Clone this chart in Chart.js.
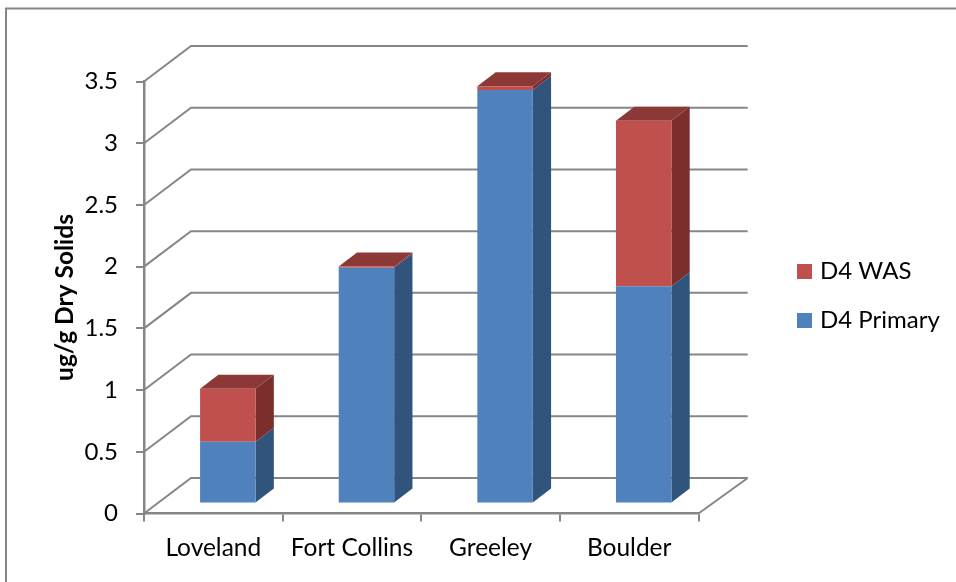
<!DOCTYPE html>
<html>
<head>
<meta charset="utf-8">
<style>
  html, body { margin: 0; padding: 0; background: #fff; }
  #wrap { width: 956px; height: 582px; }
</style>
<script src="https://cdn.jsdelivr.net/npm/chart.js@4"></script>
</head>
<body>
<div id="wrap"><canvas id="chart" width="956" height="582"></canvas></div>
<script>
const categories = ["Loveland", "Fort Collins", "Greeley", "Boulder"];
const primaryValues = [0.5, 1.91, 3.35, 1.76];
const wasValues = [0.43, 0.01, 0.03, 1.34];
const yTicks = [0, 0.5, 1, 1.5, 2, 2.5, 3, 3.5];

const FONT = "Lato";
const AXIS_GREY = "#868686";

// faces of each series: front, side, top
const blueFaces = { front: "#4F81BD", side: "#31547C", top: "#3B628F" };
const redFaces = { front: "#C0504D", side: "#7B2F2D", top: "#8C3836" };

// how far the back wall sits behind the axes, and the bars behind the axes
const wallDx = 47, wallDy = -35.5, wallRight = 747.7;
const barShiftX = 14.5, barShiftY = -10;
const barDepthX = 18.3, barDepthY = -14;

function poly(ctx, pts, fill) {
  ctx.beginPath();
  ctx.moveTo(pts[0][0], pts[0][1]);
  for (let i = 1; i < pts.length; i++) ctx.lineTo(pts[i][0], pts[i][1]);
  ctx.closePath();
  ctx.fillStyle = fill;
  ctx.fill();
}

const depthPlugin = {
  id: "depth",
  afterLayout(chart) {
    // park the legend in the right margin
    const lg = chart.legend;
    lg.left = 776; lg.right = 956;
    lg.top = 80; lg.bottom = 512;
  },
  beforeDraw(chart) {
    const ctx = chart.ctx;
    ctx.save();
    ctx.strokeStyle = AXIS_GREY;
    ctx.lineWidth = 2;
    ctx.beginPath();
    ctx.moveTo(6, 600);
    ctx.lineTo(6, 8.5);
    ctx.lineTo(960, 8.5);
    ctx.stroke();

    // walls and floor
    const y = chart.scales.y, x = chart.scales.x;
    const left = x.left, right = x.right;
    ctx.lineWidth = 2;
    yTicks.forEach((v) => {
      const py = y.getPixelForValue(v);
      ctx.beginPath();
      ctx.moveTo(left, py);
      ctx.lineTo(left + wallDx, py + wallDy);
      ctx.lineTo(wallRight, py + wallDy);
      ctx.stroke();
    });
    const by = y.getPixelForValue(0);
    ctx.beginPath();
    ctx.moveTo(right, by);
    ctx.lineTo(wallRight, by + wallDy);
    ctx.stroke();
    ctx.restore();
  },
  beforeDatasetsDraw(chart) {
    const ctx = chart.ctx;
    ctx.save();
    ctx.translate(barShiftX, barShiftY);
    const faces = [blueFaces, redFaces];
    chart.data.datasets.forEach((ds, d) => {
      const meta = chart.getDatasetMeta(d);
      meta.data.forEach((bar) => {
        const r = bar.x + bar.width / 2;
        poly(ctx, [
          [r, bar.y], [r + barDepthX, bar.y + barDepthY],
          [r + barDepthX, bar.base + barDepthY], [r, bar.base]
        ], faces[d].side);
      });
    });
    // lid on the top segment of each stack
    const topMeta = chart.getDatasetMeta(chart.data.datasets.length - 1);
    topMeta.data.forEach((bar) => {
      const l = bar.x - bar.width / 2, r = bar.x + bar.width / 2;
      poly(ctx, [
        [l, bar.y], [r, bar.y],
        [r + barDepthX, bar.y + barDepthY], [l + barDepthX, bar.y + barDepthY]
      ], redFaces.top);
    });
  },
  afterDatasetsDraw(chart) {
    chart.ctx.restore();
  }
};

new Chart(document.getElementById("chart"), {
  type: "bar",
  data: {
    labels: categories,
    datasets: [
      { label: "D4 Primary", data: primaryValues, backgroundColor: blueFaces.front, clip: false },
      { label: "D4 WAS", data: wasValues, backgroundColor: redFaces.front, clip: false }
    ]
  },
  plugins: [depthPlugin],
  options: {
    responsive: false,
    animation: false,
    layout: { padding: { left: 50, top: 81.5, right: 257.5, bottom: 0 } },
    datasets: { bar: { barPercentage: 0.4, categoryPercentage: 1 } },
    scales: {
      x: {
        stacked: true,
        afterFit(scale) { scale.height = 68.5; },
        grid: { offset: true, drawOnChartArea: false, color: AXIS_GREY, tickLength: 8, lineWidth: 2 },
        border: { color: AXIS_GREY, width: 2.5 },
        ticks: { color: "#000", font: { family: FONT, size: 24.5 }, padding: 12, maxRotation: 0 }
      },
      y: {
        stacked: true,
        min: 0,
        max: 3.5,
        afterFit(scale) { scale.width = 94; },
        afterBuildTicks(scale) { scale.ticks = yTicks.map((v) => ({ value: v })); },
        grid: { drawOnChartArea: false, color: AXIS_GREY, tickLength: 8, lineWidth: 2 },
        border: { color: AXIS_GREY, width: 2.5 },
        ticks: {
          color: "#000",
          font: { family: FONT, size: 24 },
          padding: 18,
          callback: (v) => String(v)
        },
        title: {
          display: true,
          text: "ug/g Dry Solids",
          color: "#000",
          font: { family: FONT, size: 24.5, weight: "bold" },
          padding: 0
        }
      }
    },
    plugins: {
      title: { display: false },
      tooltip: { enabled: false },
      legend: {
        position: "chartArea",
        align: "center",
        labels: {
          color: "#000",
          font: { family: FONT, size: 24 },
          boxWidth: 7,
          boxHeight: 7,
          padding: 25,
          // thick same-colour stroke makes the key squares 15px while keeping the text close
          generateLabels(chart) {
            return chart.data.datasets.map((ds, i) => ({
              text: ds.label,
              fillStyle: ds.backgroundColor,
              strokeStyle: ds.backgroundColor,
              lineWidth: 8,
              datasetIndex: i
            })).reverse();
          }
        }
      }
    }
  }
});
</script>
</body>
</html>
